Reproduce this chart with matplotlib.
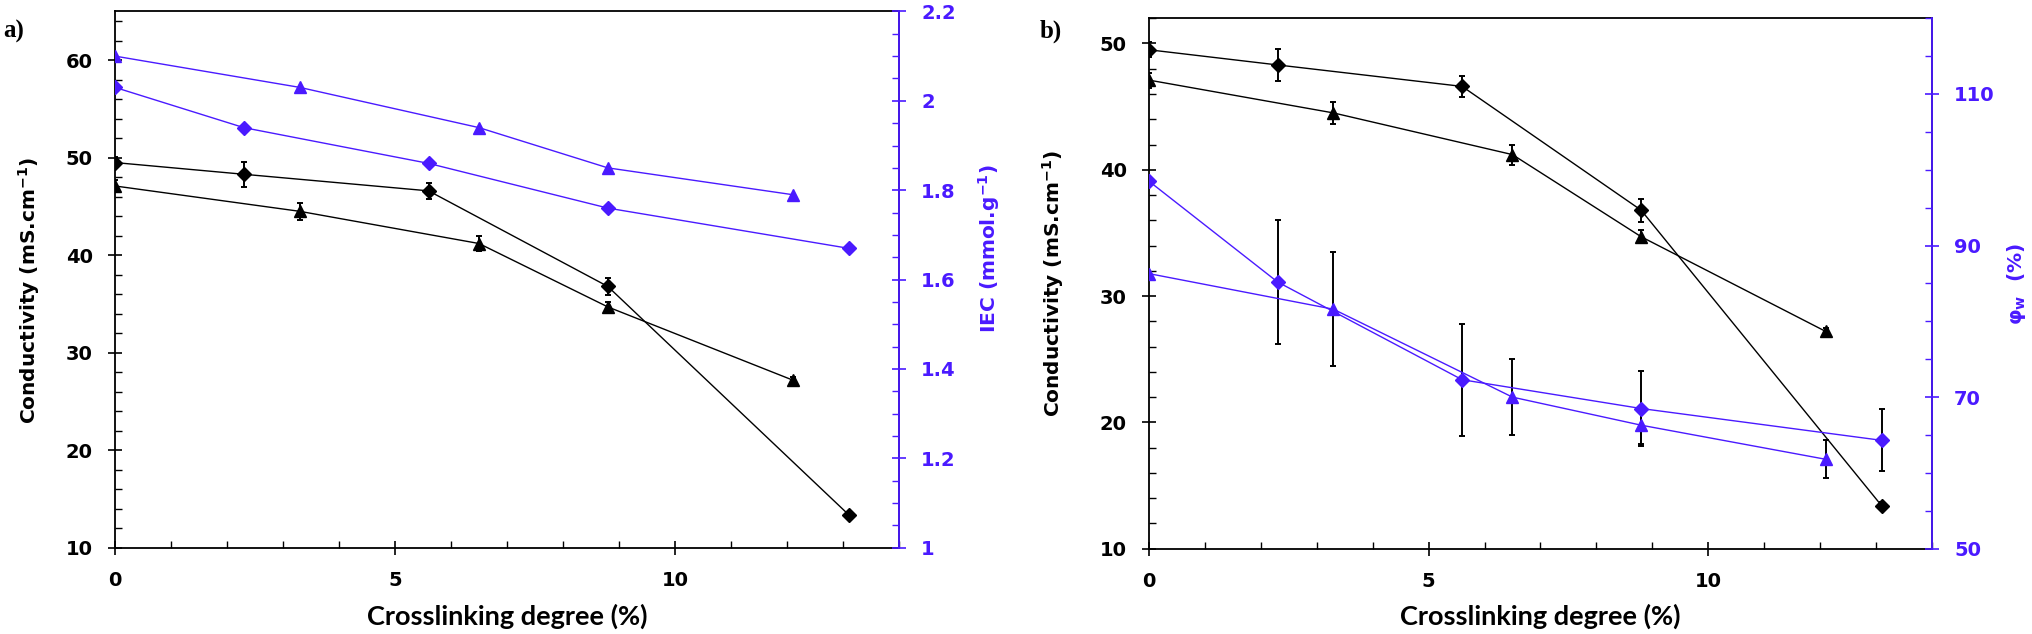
import matplotlib
matplotlib.use("Agg")
import matplotlib.pyplot as plt
from matplotlib.ticker import MultipleLocator, FixedLocator, FuncFormatter

plt.rcParams['font.family'] = ['DejaVu Sans']
plt.rcParams['font.weight'] = 'bold'
plt.rcParams['mathtext.fontset'] = 'custom'
plt.rcParams['mathtext.rm'] = 'DejaVu Sans:bold'
plt.rcParams['mathtext.bf'] = 'DejaVu Sans:bold'
plt.rcParams['mathtext.it'] = 'DejaVu Sans:bold'

# crosslinking degree (%)
x_diamond = [0, 2.3, 5.6, 8.8, 13.1]
x_triangle = [0, 3.3, 6.5, 8.8, 12.1]

# conductivity (mS/cm)
cond_diamond = [49.5, 48.3, 46.6, 36.8, 13.4]
cond_diamond_err = [0.6, 1.3, 0.8, 0.9, 0.3]
cond_triangle = [47.1, 44.5, 41.2, 34.7, 27.2]
cond_triangle_err = [0.6, 0.9, 0.8, 0.5, 0.3]

# IEC (mmol/g)
iec_diamond = [2.03, 1.94, 1.86, 1.76, 1.67]
iec_triangle = [2.10, 2.03, 1.94, 1.85, 1.79]

# water volume fraction (%)
phi_diamond = [98.5, 85.2, 72.3, 68.5, 64.3]
phi_diamond_err = [0, 8.2, 7.4, 5.0, 4.1]
phi_triangle = [86.3, 81.6, 70.0, 66.3, 61.8]
phi_triangle_err = [0, 7.5, 5.0, 2.5, 2.5]

phi_ticks = [50, 70, 90, 110]

blue = '#4A1AFF'
ms_d = 7.2
ms_t = 9.2
tick_fs = 14


def style_axis(ax, color):
    ax.tick_params(axis='y', which='major', direction='inout', length=10, width=1.2,
                   colors=color, labelsize=tick_fs, pad=11)
    ax.tick_params(axis='y', which='minor', direction='in', length=5, width=1.0, colors=color)


def make_panel(ax, ylim_right, ylim_left):
    ax.set_xlim(0, 14)
    ax.set_ylim(*ylim_left)
    ax.xaxis.set_major_locator(MultipleLocator(5))
    ax.xaxis.set_minor_locator(MultipleLocator(1))
    ax.yaxis.set_major_locator(MultipleLocator(10))
    ax.yaxis.set_minor_locator(MultipleLocator(2))
    ax.tick_params(axis='x', which='major', direction='inout', length=10, width=1.2,
                   labelsize=tick_fs, pad=12)
    ax.tick_params(axis='x', which='minor', direction='in', length=5, width=1.0)
    style_axis(ax, 'black')
    for s in ax.spines.values():
        s.set_linewidth(1.3)
    ax.set_xlabel('Crosslinking degree (%)', fontsize=19.5, fontweight='bold',
                  family='Lato', va='center')
    ax.xaxis.set_label_coords(0.5, -0.128)
    ax.set_ylabel(r'Conductivity (mS.cm$^{-1}$)', fontsize=14.5, fontweight='bold',
                  va='center')

    # conductivity series (black)
    ax.errorbar(x_diamond, cond_diamond, yerr=cond_diamond_err, color='black', marker='D',
                ms=ms_d, lw=1.0, elinewidth=1.4, capsize=2, capthick=1.4, zorder=3)
    ax.errorbar(x_triangle, cond_triangle, yerr=cond_triangle_err, color='black', marker='^',
                ms=ms_t, lw=1.0, elinewidth=1.4, capsize=2, capthick=1.4, zorder=3)

    ax2 = ax.twinx()
    ax2.set_ylim(*ylim_right)
    style_axis(ax2, blue)
    ax2.spines['right'].set_color(blue)
    ax2.spines['right'].set_linewidth(1.3)
    for s in ['left', 'top', 'bottom']:
        ax2.spines[s].set_visible(False)
    return ax2


fig = plt.figure(figsize=(20.32, 6.34), dpi=100)
axa = fig.add_axes([0.0566, 0.136, 0.3858, 0.846])
axb = fig.add_axes([0.5654, 0.1345, 0.3854, 0.8368])

# panel a
ax2a = make_panel(axa, (1, 2.2), (10, 65))
ax2a.yaxis.set_major_locator(MultipleLocator(0.2))
ax2a.yaxis.set_minor_locator(MultipleLocator(0.05))
ax2a.yaxis.set_major_formatter(FuncFormatter(lambda v, p: f'{v:g}'))
ax2a.plot(x_triangle, iec_triangle, color=blue, marker='^', ms=ms_t, lw=1.0)
ax2a.plot(x_diamond, iec_diamond, color=blue, marker='D', ms=ms_d, lw=1.0)
ax2a.set_ylabel(r'IEC (mmol.g$^{-1}$)', color=blue, fontsize=14.5, fontweight='bold',
                va='center')
axa.yaxis.set_label_coords(-0.11, 0.48)
ax2a.yaxis.set_label_coords(1.115, 0.557)

# panel b
ax2b = make_panel(axb, (50, 120), (10, 52))
ax2b.yaxis.set_major_locator(FixedLocator(phi_ticks))
ax2b.yaxis.set_minor_locator(MultipleLocator(5))
ax2b.errorbar(x_diamond, phi_diamond, yerr=phi_diamond_err, color=blue, marker='D', ms=ms_d,
              lw=1.0, ecolor='black', elinewidth=1.4, capsize=2, capthick=1.4)
ax2b.errorbar(x_triangle, phi_triangle, yerr=phi_triangle_err, color=blue, marker='^', ms=ms_t,
              lw=1.0, ecolor='black', elinewidth=1.4, capsize=2, capthick=1.4)
ax2b.set_ylabel(r'φ$_{w}$  (%)', color=blue, fontsize=14.5, fontweight='bold', va='center')
axb.yaxis.set_label_coords(-0.123, 0.5)
ax2b.yaxis.set_label_coords(1.108, 0.5)

fig.text(0.0015, 0.95, 'a)', fontsize=18, fontweight='bold', family='Liberation Serif', va='center')
fig.text(0.5118, 0.95, 'b)', fontsize=18, fontweight='bold', family='Liberation Serif', va='center')

fig.savefig('out.png', dpi=100)
